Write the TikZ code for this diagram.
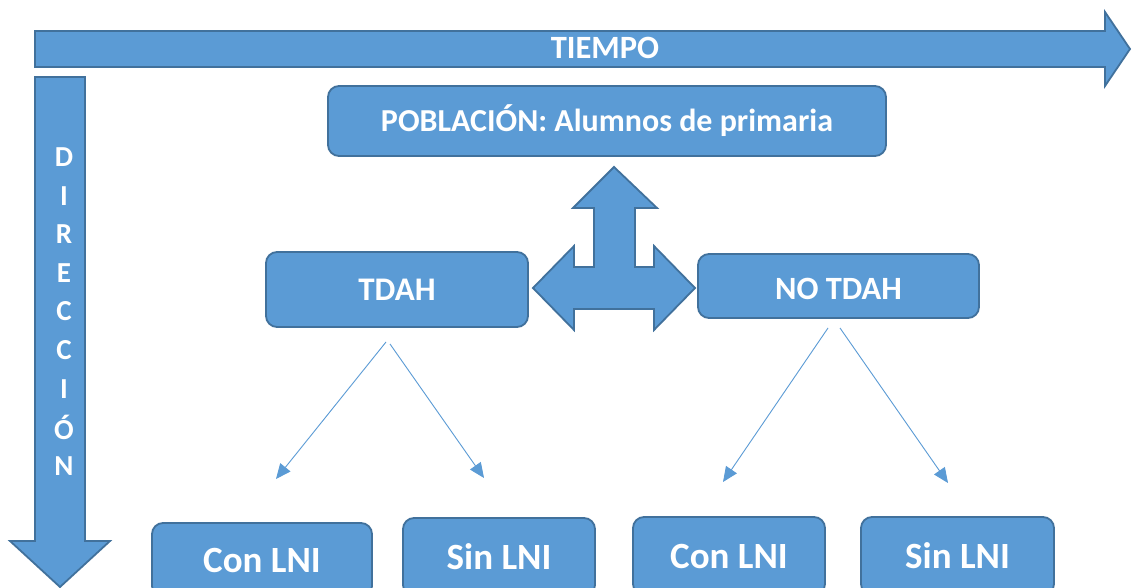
\documentclass[tikz,border=0pt]{standalone}
\usepackage{fontspec}
\setmainfont{Carlito}
\usetikzlibrary{arrows.meta}
\definecolor{ofill}{HTML}{5B9BD5}
\definecolor{oline}{HTML}{41719C}
\tikzset{
  bigshape/.style={fill=ofill, draw=oline, line width=1.8pt, line join=miter},
  rbox/.style={bigshape, rounded corners=11pt, text=white, font=\bfseries, inner sep=0pt},
  thinarrow/.style={draw=ofill, line width=0.9pt, -{Triangle[length=15pt,width=13pt]}},
  vletter/.style={text=white, font=\fontsize{29}{29}\selectfont\bfseries, inner sep=0pt}
}
\begin{document}
\begin{tikzpicture}[x=1pt,y=-1pt]
\clip (0,0) rectangle (1132,588);
\fill[white] (0,0) rectangle (1132,588);
% TIEMPO arrow
\draw[bigshape] (35,31) -- (1105,31) -- (1105,12) -- (1130,49) -- (1105,86) -- (1105,67) -- (35,67) -- cycle;
\node[text=white, font=\fontsize{32.5}{32.5}\selectfont\bfseries] (tiempo) at (605,48) {TIEMPO};
% DIRECCION arrow
\draw[bigshape] (35,77) -- (85,77) -- (85,541) -- (110,541) -- (60,587) -- (10,541) -- (35,541) -- cycle;
\foreach \l [count=\i] in {D,I,R,E,C,C,I,Ó,N}{
  \node[vletter] (dir\i) at (64,{157+38.6*(\i-1)}) {\l};
}
% T-shaped arrow
\draw[bigshape] (614,167) -- (657,208) -- (635,208) -- (635,267) -- (654,267) -- (654,246) -- (695,288) -- (654,330) -- (654,309) -- (574,309) -- (574,330) -- (533,288) -- (574,246) -- (574,267) -- (594,267) -- (594,208) -- (573,208) -- cycle;
% boxes
\node[rbox, minimum width=558pt, minimum height=70pt, font=\fontsize{32}{32}\selectfont\bfseries] (pob) at (607,121) {POBLACIÓN: Alumnos de primaria};
\node[rbox, minimum width=262pt, minimum height=75pt, font=\fontsize{33}{33}\selectfont\bfseries] (tdah) at (397,289.5) {TDAH};
\node[rbox, minimum width=281pt, minimum height=64pt, font=\fontsize{32.5}{32.5}\selectfont\bfseries, text height=27pt, text depth=0pt] (notdah) at (838.5,286) {NO TDAH};
\node[rbox, minimum width=220pt, minimum height=74pt, font=\fontsize{37}{37}\selectfont\bfseries] (con1) at (262,560) {Con LNI};
\node[rbox, minimum width=192pt, minimum height=78pt, font=\fontsize{37}{37}\selectfont\bfseries] (sin1) at (499,557) {Sin LNI};
\node[rbox, minimum width=192pt, minimum height=78pt, font=\fontsize{37}{37}\selectfont\bfseries] (con2) at (729,556) {Con LNI};
\node[rbox, minimum width=193pt, minimum height=78pt, font=\fontsize{37}{37}\selectfont\bfseries] (sin2) at (957.5,556) {Sin LNI};
% thin arrows
\coordinate (a1s) at (386,342);
\coordinate (a1e) at (276,479);
\coordinate (a2s) at (390,344);
\coordinate (a2e) at (484,478);
\coordinate (a3s) at (828,328);
\coordinate (a3e) at (723,482);
\coordinate (a4s) at (840,328);
\coordinate (a4e) at (948,483);
\draw[thinarrow] (a1s) -- (a1e);
\draw[thinarrow] (a2s) -- (a2e);
\draw[thinarrow] (a3s) -- (a3e);
\draw[thinarrow] (a4s) -- (a4e);
\end{tikzpicture}
\end{document}
